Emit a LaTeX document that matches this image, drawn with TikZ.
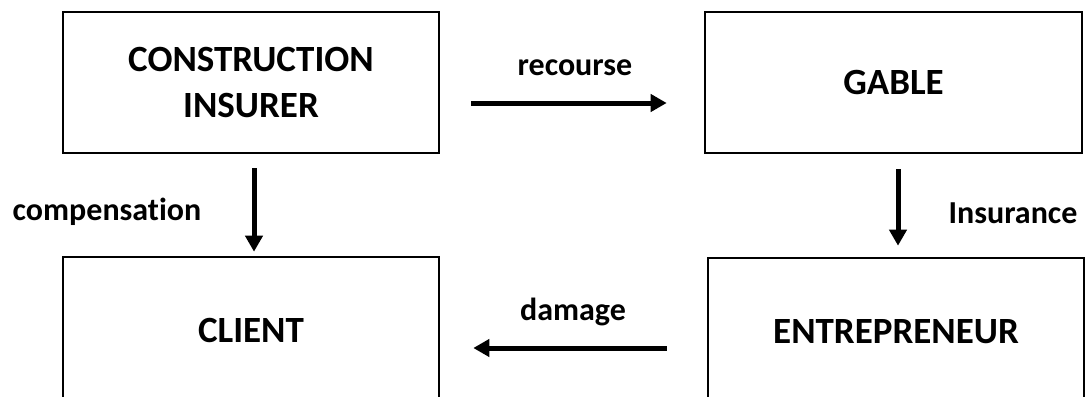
\documentclass[tikz,border=0pt]{standalone}
\usepackage{fontspec}
\setmainfont{Carlito}[Ligatures={NoCommon}]
\usetikzlibrary{arrows.meta}
\begin{document}
\begin{tikzpicture}[x=1pt,y=-1pt,
  box/.style={draw=black,line width=2.6pt,inner sep=0pt,align=center,
    font=\fontsize{37}{46}\selectfont\bfseries},
  lab/.style={inner sep=0pt,font=\fontsize{32}{38}\selectfont\bfseries},
  arr/.style={line width=5pt,-{Triangle[length=16pt,width=17pt]}}]
\clip (0,0) rectangle (1086,396);
\fill[white] (0,0) rectangle (1086,396);
\node[box,minimum width=376pt,minimum height=141pt] (tl) at (251,82.5) {CONSTRUCTION\\INSURER};
\node[box,minimum width=377pt,minimum height=141pt] (tr) at (893.5,82.5) {GABLE};
\node[box,minimum width=376pt,minimum height=146pt] (bl) at (251,330) {CLIENT};
\node[box,minimum width=376pt,minimum height=148pt] (br) at (896,332) {ENTREPRENEUR};
\draw[arr,shorten <=31pt,shorten >=37pt] ([yshift=-20.5pt]tl.east) -- ([yshift=-20.5pt]tr.west);
\draw[arr,shorten <=14pt,shorten >=4pt] ([xshift=3pt]tl.south) -- ([xshift=3pt]bl.north);
\draw[arr,shorten <=15pt,shorten >=11pt] ([xshift=4.5pt]tr.south) -- ([xshift=2pt]br.north);
\draw[arr,shorten <=40pt,shorten >=33pt] ([yshift=-16pt]br.west) -- ([yshift=-18pt]bl.east);
\node[lab] (lrec) at (575,68) {recourse};
\node[lab] (lcomp) at (107,212) {compensation};
\node[lab] (lins) at (1013,213) {Insurance};
\node[lab] (ldam) at (573,312) {damage};
\end{tikzpicture}
\end{document}
